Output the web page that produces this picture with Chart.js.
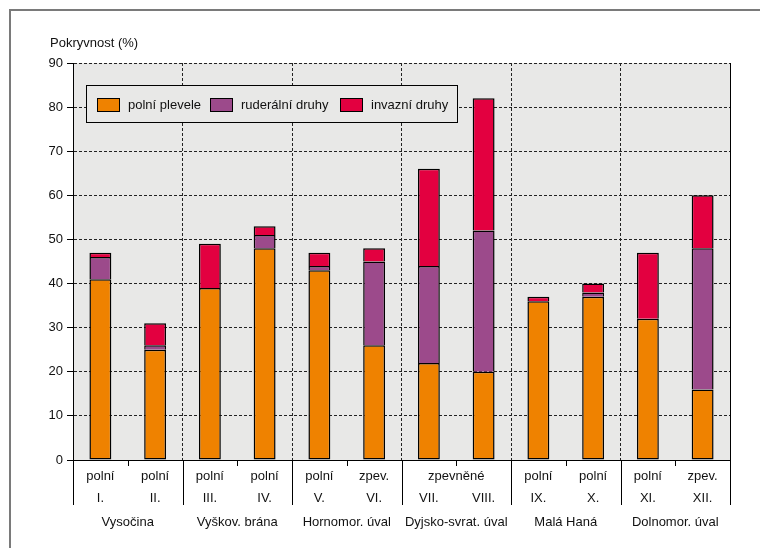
<!DOCTYPE html>
<html>
<head>
<meta charset="utf-8">
<script src="https://cdn.jsdelivr.net/npm/chart.js@4"></script>
<style>
  html, body { margin: 0; padding: 0; background: #fff; }
  #wrap { position: relative; width: 760px; height: 548px; }
</style>
</head>
<body>
<div id="wrap"><canvas id="graf" width="760" height="548"></canvas></div>
<script>
// kategorie (lokality) a popisky os
const kategorie = ['I.', 'II.', 'III.', 'IV.', 'V.', 'VI.', 'VII.', 'VIII.', 'IX.', 'X.', 'XI.', 'XII.'];
const typPopisky = ['polní', 'polní', 'polní', 'polní', 'polní', 'zpev.', 'zpevněné', 'polní', 'polní', 'polní', 'zpev.'];
const typRozpeti = [1, 1, 1, 1, 1, 1, 2, 1, 1, 1, 1];
const oblasti = ['Vysočina', 'Vyškov. brána', 'Hornomor. úval', 'Dyjsko-svrat. úval', 'Malá Haná', 'Dolnomor. úval'];
const yTicky = [0, 10, 20, 30, 40, 50, 60, 70, 80, 90];

// hodnoty pokryvnosti (%)
const polniPlevele = [41, 25, 39, 48, 43, 26, 22, 20, 36, 37, 32, 16];
const ruderalniDruhy = [5, 1, 0, 3, 1, 19, 22, 32, 0, 1, 0, 32];
const invazniDruhy = [1, 5, 10, 2, 3, 3, 22, 30, 1, 2, 15, 12];

const pismo = "'Liberation Sans', Arial, sans-serif";

// pozadí, rámeček, popisky pod osou x a legenda uvnitř grafu
const doplnky = {
    id: 'doplnky',
    beforeDraw(chart) {
        const ctx = chart.ctx;
        const a = chart.chartArea;
        ctx.save();
        ctx.fillStyle = '#e8e8e7';
        ctx.fillRect(a.left, a.top, a.right - a.left, a.bottom - a.top);
        // vnější rámeček
        ctx.strokeStyle = '#7a7a7a';
        ctx.lineWidth = 2;
        ctx.beginPath();
        ctx.moveTo(10, 548);
        ctx.lineTo(10, 10);
        ctx.lineTo(760, 10);
        ctx.stroke();
        ctx.restore();
    },
    afterDraw(chart) {
        const ctx = chart.ctx;
        const a = chart.chartArea;
        const x = chart.scales.x;
        const sirka = x.getPixelForValue(1) - x.getPixelForValue(0);
        ctx.save();
        // pravý okraj
        ctx.strokeStyle = '#000';
        ctx.lineWidth = 1;
        ctx.beginPath();
        ctx.moveTo(a.right + 0.5, a.top);
        ctx.lineTo(a.right + 0.5, a.bottom);
        ctx.stroke();

        // čáry pod osou x
        ctx.beginPath();
        for (let i = 0; i <= kategorie.length; i++) {
            const px = Math.round(x.getPixelForValue(i) - sirka / 2) + 0.5;
            const delka = (i % 2 === 0) ? 45 : 6;
            ctx.moveTo(px, a.bottom);
            ctx.lineTo(px, a.bottom + delka);
        }
        ctx.stroke();

        ctx.fillStyle = '#111';
        ctx.font = '13px ' + pismo;
        ctx.textAlign = 'center';
        ctx.textBaseline = 'middle';
        // řádek 1: typ stanoviště
        let idx = 0;
        typPopisky.forEach((t, i) => {
            const n = typRozpeti[i];
            const stred = (x.getPixelForValue(idx) + x.getPixelForValue(idx + n - 1)) / 2;
            ctx.fillText(t, stred, a.bottom + 16);
            idx += n;
        });
        // řádek 2: číslo lokality
        kategorie.forEach((k, i) => {
            ctx.fillText(k, x.getPixelForValue(i), a.bottom + 38);
        });
        // řádek 3: oblast
        oblasti.forEach((o, i) => {
            const stred = (x.getPixelForValue(2 * i) + x.getPixelForValue(2 * i + 1)) / 2;
            ctx.fillText(o, stred, a.bottom + 62);
        });

        // název osy y
        ctx.textAlign = 'left';
        ctx.fillText('Pokryvnost (%)', a.left - 23, a.top - 20);

        // legenda
        const lx = 86.5, ly = 85.5, lw = 371, lh = 37;
        ctx.fillStyle = '#e8e8e7';
        ctx.fillRect(lx, ly, lw, lh);
        ctx.strokeStyle = '#000';
        ctx.strokeRect(lx, ly, lw, lh);
        const pozice = [97, 210, 340];
        chart.data.datasets.forEach((ds, i) => {
            const sx = pozice[i];
            ctx.fillStyle = ds.backgroundColor;
            ctx.fillRect(sx + 0.5, 98.5, 22, 13);
            ctx.strokeRect(sx + 0.5, 98.5, 22, 13);
            ctx.fillStyle = '#111';
            ctx.fillText(ds.label, sx + 31, 105);
        });
        ctx.restore();
    }
};

const ctx = document.getElementById('graf').getContext('2d');
new Chart(ctx, {
    type: 'bar',
    data: {
        labels: kategorie,
        datasets: [{
            label: 'polní plevele',
            data: polniPlevele,
            backgroundColor: '#ef8200',
            borderSkipped: false
        }, {
            label: 'ruderální druhy',
            data: ruderalniDruhy,
            backgroundColor: '#9c4a8b',
            borderSkipped: 'bottom'
        }, {
            label: 'invazní druhy',
            data: invazniDruhy,
            backgroundColor: '#e30040',
            borderSkipped: 'bottom'
        }]
    },
    options: {
        responsive: false,
        animation: false,
        devicePixelRatio: 1,
        layout: { padding: { top: 63, right: 30, left: 0, bottom: 0 } },
        datasets: {
            bar: {
                categoryPercentage: 1,
                barPercentage: 0.4,
                borderColor: '#000',
                borderWidth: 1.5,
                inflateAmount: 0
            }
        },
        plugins: {
            legend: { display: false },
            tooltip: { enabled: false }
        },
        scales: {
            x: {
                stacked: true,
                grid: {
                    offset: true,
                    drawTicks: false,
                    color: (c) => (c.index % 2 === 0 ? '#222' : 'rgba(0,0,0,0)'),
                    lineWidth: 1
                },
                border: { display: true, color: '#000', width: 1, dash: [3, 2] },
                ticks: { display: false },
                afterFit: (s) => { s.height = 88; }
            },
            y: {
                stacked: true,
                min: 0,
                max: 90,
                afterBuildTicks: (s) => { s.ticks = yTicky.map(v => ({ value: v })); },
                grid: {
                    color: '#222',
                    lineWidth: 1,
                    tickLength: 6,
                    tickColor: '#000'
                },
                border: { display: true, color: '#000', width: 1, dash: [3, 2] },
                ticks: {
                    color: '#111',
                    padding: 4,
                    font: { family: pismo, size: 13 }
                },
                afterFit: (s) => { s.width = 73; }
            }
        }
    },
    plugins: [doplnky]
});
</script>
</body>
</html>
